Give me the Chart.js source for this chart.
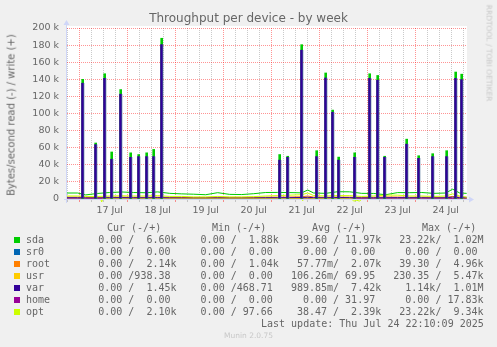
<!DOCTYPE html>
<html>
<head>
<meta charset="utf-8">
<script src="https://cdn.jsdelivr.net/npm/chart.js@4/dist/chart.umd.min.js"></script>
<style>
  body { margin: 0; background: #f0f0f0; font-family: "DejaVu Sans", sans-serif; color: #666; }
  #quadro { position: relative; width: 497px; height: 347px; overflow: hidden; }
  #grafico { position: absolute; left: 0; top: 0; }
  .txt { position: absolute; white-space: pre; }
  #titulo { left: 0; width: 497px; top: 11px; text-align: center; font-size: 12px; line-height: 14px; }
  #ytitulo { left: 10.5px; top: 115px; font-size: 10px; transform: translate(-50%, -50%) rotate(-90deg); }
  #rrd { left: 488.5px; top: 53px; font-size: 7.5px; color: #c8c8c8; transform: translate(-50%, -50%) rotate(90deg); }
  .mono { font-family: "DejaVu Sans Mono", monospace; font-size: 10px; line-height: 12px; }
  .cor { position: absolute; width: 6px; height: 6px; }
  #munin { left: 0; width: 497px; text-align: center; top: 331px; font-size: 7.5px; color: #c8c8c8; }
</style>
</head>
<body>
<div id="quadro">
  <canvas id="grafico" width="497" height="347"></canvas>
  <div class="txt" id="titulo">Throughput per device - by week</div>
  <div class="txt" id="ytitulo">Bytes/second read (-) / write (+)</div>
  <div class="txt" id="rrd">RRDTOOL / TOBI OETIKER</div>
  <div id="legenda"></div>
  <div class="txt" id="munin">Munin 2.0.75</div>
</div>
<script>
// eixo x em horas a partir de 17 Jul 00:00
const xMin = -9.35;
const xMax = 190.65;
const gridHours = [-6, 0, 6, 12, 18, 24, 30, 36, 42, 48, 54, 60, 66, 72, 78, 84, 90, 96,
  102, 108, 114, 120, 126, 132, 138, 144, 150, 156, 162, 168, 174, 180, 186];
const xLabels = ["17 Jul", "18 Jul", "19 Jul", "20 Jul", "21 Jul", "22 Jul", "23 Jul", "24 Jul"];
const yTicks = [0, 10000, 20000, 30000, 40000, 50000, 60000, 70000, 80000, 90000, 100000,
  110000, 120000, 130000, 140000, 150000, 160000, 170000, 180000, 190000, 200000];
const yLabels = ["0", "20 k", "40 k", "60 k", "80 k", "100 k", "120 k", "140 k", "160 k", "180 k", "200 k"];

// picos (escrita, bytes/s)
const spikeHours = [-1.5, 5, 9.5, 13, 17.5, 22.5, 26.5, 30.5, 34, 38, 97, 101, 108, 115.5, 120,
  123.5, 126.5, 134.5, 142, 146, 149.5, 160.5, 166.5, 173.5, 180.5, 185, 188];
const sdaPeaks = [140000, 65500, 146500, 55000, 128000, 54000, 52000, 54000, 58000, 188000,
  52000, 50000, 180500, 56500, 147400, 104000, 49000, 54000, 146500, 144500, 50000, 70000,
  50600, 53000, 56500, 148500, 146000];
const varPeaks = [136000, 64000, 141500, 47000, 123000, 49000, 50000, 50000, 50000, 181000,
  46000, 49000, 174600, 50000, 142000, 102000, 46000, 49000, 141400, 139600, 49000, 64700,
  48000, 50000, 50000, 141500, 140000];

// linha de base
const baseHours = [-9.5, -4, 0, 6, 12, 18, 24, 30, 36, 42, 48, 54, 60, 66, 72, 78, 84, 90, 96,
  102, 108, 111, 114, 120, 126, 132, 138, 144, 150, 156, 162, 168, 174, 180, 183.5, 187, 190.5];
const sdaBase = [7000, 7000, 4800, 6500, 7600, 8200, 7600, 7300, 8300, 6600, 6000, 5600, 5000,
  7400, 5400, 5200, 6200, 7600, 7700, 7500, 7200, 10500, 7000, 6600, 8500, 8400, 6600, 6500,
  5000, 7500, 7400, 7600, 6600, 7000, 11500, 7000, 6600];
const sr0Base = [0, 0, 0, 0, 0, 0, 0, 0, 0, 0, 0, 0, 0, 0, 0, 0, 0, 0, 0, 0, 0, 0, 0, 0, 0, 0,
  0, 0, 0, 0, 0, 0, 0, 0, 0, 0, 0];
const rootBase = [2200, 2200, 2000, 1800, 2100, 2300, 2000, 2000, 2200, 1900, 1800, 1700, 1700,
  2000, 1800, 1800, 1900, 2100, 2200, 2300, 2600, 3500, 2200, 2000, 2300, 2200, 1900, 2000,
  2400, 2300, 2000, 2100, 1900, 2000, 3000, 2200, 2100];
const usrBase = [0, 0, 0, 0, 0, 0, 0, 0, 0, 0, 0, 0, 0, 0, 0, 0, 0, 0, 0, 0, 900, 1500, 0, 0,
  0, 0, 0, 0, 0, 0, 0, 0, 0, 0, 1200, 0, 900];
const varBase = [1500, 1500, 1300, 1200, 1500, 1600, 1500, 1400, 1600, 1300, 1200, 1100, 1100,
  1300, 1100, 1100, 1200, 1500, 1500, 1600, 1700, 2000, 1500, 1400, 1700, 1600, 1300, 1400,
  1500, 1600, 1500, 1500, 1300, 1400, 2200, 1500, 1450];
const homeBase = [0, 0, 0, 0, 0, 0, 300, 0, 0, 0, 0, 0, 0, 0, 0, 0, 0, 0, 0, 0, 0, 400, 0, 0,
  0, 0, 0, 0, 0, 0, 0, 0, 0, 0, 500, 0, 0];
const optBase = [3500, 3500, 3000, 3000, 3500, 3800, 3500, 3500, 4000, 3000, 3000, 2500, 2500,
  3000, 2500, 2500, 2800, 3500, 4000, 4500, 5000, 7000, 4000, 3500, 4000, 4000, 3000, 3500,
  4500, 4500, 3500, 3500, 3000, 3500, 6000, 3500, 2100];

// leitura do opt (negativa)
const optReadHours = [7.5, 8, 8.5, 108, 108.5, 109, 133, 134, 135.5, 137, 138];
const optReadValues = [0, -3500, 0, 0, -2000, 0, 0, -2500, -1500, -2500, 0];

// legenda
const nomes = ["sda", "sr0", "root", "usr", "var", "home", "opt"];
const cores = ["#00cc00", "#0066b3", "#ff8000", "#ffcc00", "#330099", "#990099", "#ccff00"];
const colCur = ["  0.00 /  6.60k", "  0.00 /  0.00 ", "  0.00 /  2.14k", "  0.00 /938.38 ",
  "  0.00 /  1.45k", "  0.00 /  0.00 ", "  0.00 /  2.10k"];
const colMin = ["  0.00 /  1.88k", "  0.00 /  0.00 ", "  0.00 /  1.04k", "  0.00 /  0.00 ",
  "  0.00 /468.71 ", "  0.00 /  0.00 ", "  0.00 / 97.66 "];
const colAvg = [" 39.60 / 11.97k", "  0.00 /  0.00 ", " 57.77m/  2.07k", "106.26m/ 69.95 ",
  "989.85m/  7.42k", "  0.00 / 31.97 ", " 38.47 /  2.39k"];
const colMax = [" 23.22k/  1.02M", "  0.00 /  0.00 ", " 39.30 /  4.96k", "230.35 /  5.47k",
  "  1.14k/  1.01M", "  0.00 / 17.83k", " 23.22k/  9.34k"];
const cabecalhos = ["Cur (-/+)", "Min (-/+)", "Avg (-/+)", "Max (-/+)"];
const ultimaAtualizacao = "Last update: Thu Jul 24 22:10:09 2025";

function pontos(xs, ys) {
  return xs.map((x, i) => ({ x: x, y: ys[i] }));
}

function linha(xs, valores, cor, ordem) {
  return {
    type: "line",
    data: pontos(xs, valores),
    borderColor: cor,
    borderWidth: 1,
    pointRadius: 0,
    tension: 0,
    order: ordem
  };
}

// Monta a legenda no estilo do munin
function carregarLegenda() {
  let leg = document.getElementById("legenda");
  const cabX = [107, 212, 312, 422];
  cabecalhos.forEach((c, i) => {
    let d = document.createElement("div");
    d.className = "txt mono";
    d.style.left = cabX[i] + "px";
    d.style.top = "221.5px";
    d.textContent = c;
    leg.appendChild(d);
  });
  nomes.forEach((n, i) => {
    let y = 239.5 + i * 12;
    let q = document.createElement("div");
    q.className = "cor";
    q.style.left = "14px";
    q.style.top = (y - 3) + "px";
    q.style.background = cores[i];
    leg.appendChild(q);
    let d = document.createElement("div");
    d.className = "txt mono";
    d.style.left = "26px";
    d.style.top = (y - 6) + "px";
    d.textContent = n.padEnd(10) + colCur[i] + "  " + colMin[i] + "  " + colAvg[i] + "  " + colMax[i];
    leg.appendChild(d);
  });
  let u = document.createElement("div");
  u.className = "txt mono";
  u.style.left = "261px";
  u.style.top = "317.5px";
  u.textContent = ultimaAtualizacao;
  leg.appendChild(u);
}

// fundo branco e setas dos eixos
const eixos = {
  id: "eixos",
  beforeDraw(chart) {
    const a = chart.chartArea;
    const c = chart.ctx;
    c.save();
    c.fillStyle = "#ffffff";
    c.fillRect(a.left, a.top - 2, a.right - a.left, a.bottom - a.top + 2);
    c.restore();
  },
  afterDraw(chart) {
    const a = chart.chartArea;
    const c = chart.ctx;
    c.save();
    c.strokeStyle = "#cfd6f8";
    c.fillStyle = "#cfd6f8";
    c.lineWidth = 1;
    c.beginPath();
    c.moveTo(a.left - 0.5, a.bottom + 4);
    c.lineTo(a.left - 0.5, a.top - 4);
    c.moveTo(a.left - 3, a.bottom + 0.5);
    c.lineTo(a.right + 3, a.bottom + 0.5);
    c.stroke();
    c.beginPath();
    c.moveTo(a.left - 3.5, a.top - 3);
    c.lineTo(a.left + 2.5, a.top - 3);
    c.lineTo(a.left - 0.5, a.top - 8);
    c.closePath();
    c.fill();
    c.beginPath();
    c.moveTo(a.right + 2, a.bottom - 2.5);
    c.lineTo(a.right + 2, a.bottom + 3.5);
    c.lineTo(a.right + 7, a.bottom + 0.5);
    c.closePath();
    c.fill();
    c.restore();
  }
};

function carregarGrafico() {
  const corMaior = "rgba(255, 0, 0, 0.42)";
  const corMenor = "rgba(150, 150, 150, 0.5)";
  new Chart(document.getElementById("grafico"), {
    type: "line",
    data: {
      datasets: [
        {
          type: "bar",
          data: pontos(spikeHours, varPeaks),
          backgroundColor: "#330099",
          borderColor: "#4a6f95",
          borderWidth: { left: 0, right: 1, top: 0, bottom: 0 },
          borderSkipped: false,
          barThickness: 3,
          grouped: false,
          order: 0
        },
        {
          type: "bar",
          data: pontos(spikeHours, sdaPeaks),
          backgroundColor: "#00cc00",
          barThickness: 2,
          grouped: false,
          order: 1
        },
        linha(baseHours, optBase, cores[6], 2),
        Object.assign(linha(optReadHours, optReadValues, cores[6], 2), { clip: false }),
        linha(baseHours, homeBase, cores[5], 3),
        linha(baseHours, varBase, cores[4], 4),
        linha(baseHours, usrBase, cores[3], 5),
        linha(baseHours, rootBase, cores[2], 6),
        linha(baseHours, sr0Base, cores[1], 7),
        linha(baseHours, sdaBase, cores[0], 8)
      ]
    },
    options: {
      responsive: false,
      animation: false,
      layout: { padding: { top: 28, right: 30, bottom: 128, left: 0 } },
      plugins: {
        legend: { display: false },
        tooltip: { enabled: false }
      },
      scales: {
        x: {
          type: "linear",
          min: xMin,
          max: xMax,
          offset: false,
          afterBuildTicks: s => { s.ticks = gridHours.map(v => ({ value: v })); },
          afterFit: s => { s.height = 20; },
          grid: {
            color: c => (c.tick && c.tick.value % 24 === 0) ? corMaior : corMenor,
            tickColor: c => (c.tick && c.tick.value % 24 === 0) ? corMaior : corMenor,
            tickLength: 3
          },
          border: { display: false, dash: [1, 1] },
          ticks: {
            autoSkip: false,
            maxRotation: 0,
            minRotation: 0,
            padding: 3,
            color: "#666",
            font: { family: "DejaVu Sans", size: 9.5 },
            callback: function(v) {
              return (((v % 24) + 24) % 24 === 12) ? xLabels[(v - 12) / 24] : "";
            }
          }
        },
        y: {
          min: 0,
          max: 200000,
          afterBuildTicks: s => { s.ticks = yTicks.map(v => ({ value: v })); },
          afterFit: s => { s.width = 67; },
          grid: {
            color: c => (c.tick && c.tick.value % 20000 === 0) ? corMaior : corMenor,
            drawTicks: false
          },
          border: { display: false, dash: [1, 1] },
          ticks: {
            padding: 8,
            color: "#666",
            font: { family: "DejaVu Sans", size: 9.5 },
            callback: function(v) {
              return v % 20000 === 0 ? yLabels[v / 20000] : "";
            }
          }
        }
      }
    },
    plugins: [eixos]
  });
}

carregarLegenda();
carregarGrafico();
</script>
</body>
</html>
